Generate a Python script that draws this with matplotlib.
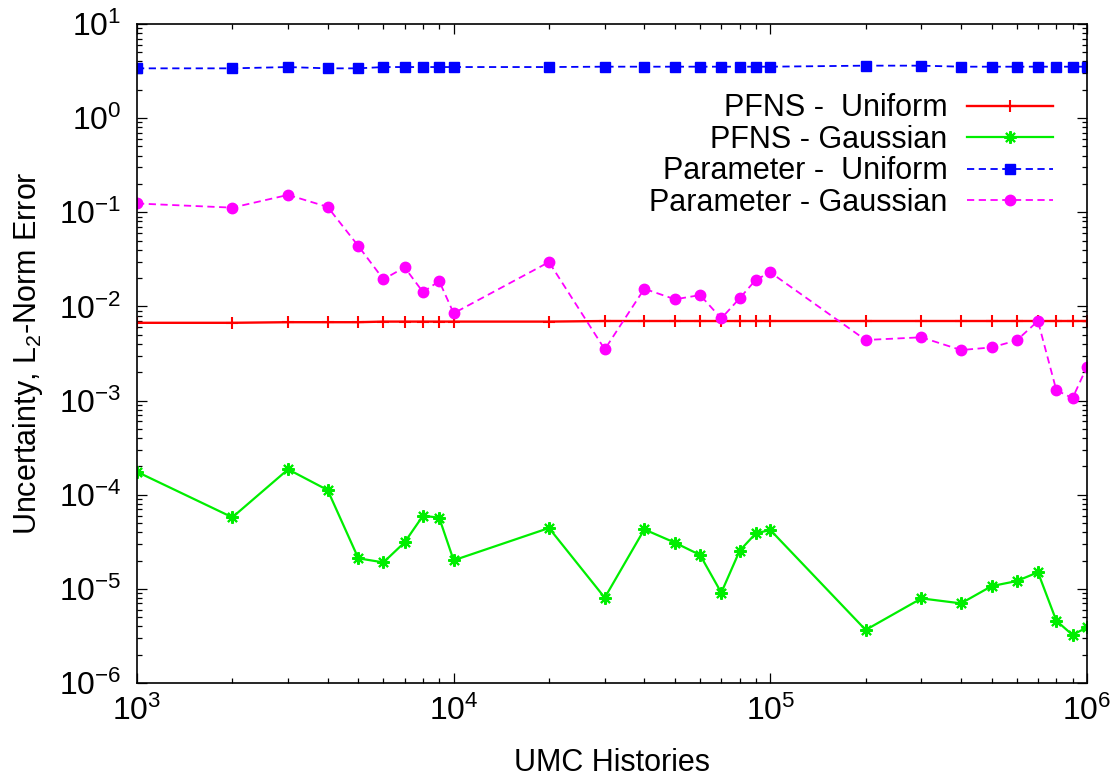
# UQ convergence: uncertainty vs number of UMC histories
import numpy as np
import matplotlib
matplotlib.use("Agg")
import matplotlib.pyplot as plt
from matplotlib.ticker import LogLocator, NullFormatter

# ---------- Data ----------
histories = [1e3, 2e3, 3e3, 4e3, 5e3, 6e3, 7e3, 8e3, 9e3,
             1e4, 2e4, 3e4, 4e4, 5e4, 6e4, 7e4, 8e4, 9e4,
             1e5, 2e5, 3e5, 4e5, 5e5, 6e5, 7e5, 8e5, 9e5, 1e6]

pfns_uniform = [6.7e-3, 6.7e-3, 6.8e-3, 6.8e-3, 6.8e-3, 6.9e-3, 6.9e-3, 6.9e-3, 6.9e-3,
                6.9e-3, 6.9e-3, 7.0e-3, 7.0e-3, 7.0e-3, 7.0e-3, 7.0e-3, 7.0e-3, 7.0e-3,
                7.0e-3, 7.0e-3, 7.0e-3, 7.0e-3, 7.0e-3, 7.0e-3, 7.0e-3, 7.0e-3, 7.0e-3, 7.0e-3]

pfns_gauss = [1.75e-4, 5.75e-5, 1.86e-4, 1.12e-4, 2.11e-5, 1.91e-5, 3.12e-5, 5.98e-5, 5.70e-5,
              2.01e-5, 4.43e-5, 8.05e-6, 4.28e-5, 3.09e-5, 2.29e-5, 9.1e-6, 2.54e-5, 3.89e-5,
              4.22e-5, 3.66e-6, 7.92e-6, 7.01e-6, 1.07e-5, 1.21e-5, 1.50e-5, 4.59e-6, 3.24e-6, 3.90e-6]

param_uniform = [3.38, 3.38, 3.49, 3.38, 3.38, 3.49, 3.49, 3.49, 3.49,
                 3.49, 3.49, 3.52, 3.52, 3.52, 3.52, 3.52, 3.52, 3.52,
                 3.52, 3.61, 3.61, 3.52, 3.52, 3.52, 3.52, 3.52, 3.52, 3.52]

param_gauss = [0.124, 0.112, 0.153, 0.114, 0.0438, 0.0194, 0.026, 0.0142, 0.0186,
               0.00846, 0.0296, 0.00350, 0.0154, 0.0119, 0.0132, 0.00746, 0.0122, 0.0192,
               0.0230, 0.00440, 0.0047, 0.00344, 0.00367, 0.00436, 0.0070, 0.00129, 0.00106, 0.00229]

# ---------- Style ----------
plt.rcParams["font.family"] = ["Liberation Sans", "DejaVu Sans"]
plt.rcParams["font.size"] = 22
plt.rcParams["mathtext.default"] = "regular"
plt.rcParams["axes.unicode_minus"] = False

fig = plt.figure(figsize=(11.19, 7.80), dpi=100)
ax = fig.add_axes([137 / 1119, 1 - 683 / 780, 950 / 1119, 659 / 780])

ax.plot(histories, pfns_uniform, color="#ff0000", lw=1.7, marker="+",
        ms=8, mew=1.5, label="PFNS -  Uniform")
ax.plot(histories, pfns_gauss, color="#00ee00", lw=1.6, marker=(8, 2, 0),
        ms=9, mew=1.5, label="PFNS - Gaussian")
ax.plot(histories, param_uniform, color="#0000ff", lw=1.3, ls=(0, (4, 2.5)),
        marker="s", ms=7.5, label="Parameter -  Uniform")
ax.plot(histories, param_gauss, color="#ff00ff", lw=1.3, ls=(0, (4, 2.5)),
        marker="o", ms=7.5, label="Parameter - Gaussian")

ax.set_xscale("log")
ax.set_yscale("log")
ax.set_xlim(1e3, 1e6)
ax.set_ylim(1e-6, 1e1)

ax.xaxis.set_major_locator(LogLocator(base=10, numticks=100))
ax.yaxis.set_major_locator(LogLocator(base=10, numticks=100))
ax.xaxis.set_minor_locator(LogLocator(base=10, subs=np.arange(2, 10), numticks=100))
ax.yaxis.set_minor_locator(LogLocator(base=10, subs=np.arange(2, 10), numticks=100))
ax.xaxis.set_minor_formatter(NullFormatter())
ax.yaxis.set_minor_formatter(NullFormatter())

ax.tick_params(which="both", direction="in", top=True, right=True, labelsize=23)
ax.tick_params(which="major", length=7, width=0.9)
ax.tick_params(which="minor", length=3.6, width=0.9)
ax.tick_params(axis="x", which="major", pad=9)
ax.tick_params(axis="y", which="major", pad=11)
for s in ax.spines.values():
    s.set_linewidth(1.2)

ax.set_xlabel("UMC Histories", fontsize=22, labelpad=15)
ax.set_ylabel("Uncertainty, L$_2$-Norm Error", fontsize=22, labelpad=10)

ax.legend(loc="upper right", bbox_to_anchor=(0.964, 0.895), frameon=False,
          markerfirst=False, alignment="right", fontsize=22,
          handlelength=2.8, handletextpad=0.65, labelspacing=0.05,
          borderpad=0, borderaxespad=0)

fig.savefig("out.png", dpi=100)
